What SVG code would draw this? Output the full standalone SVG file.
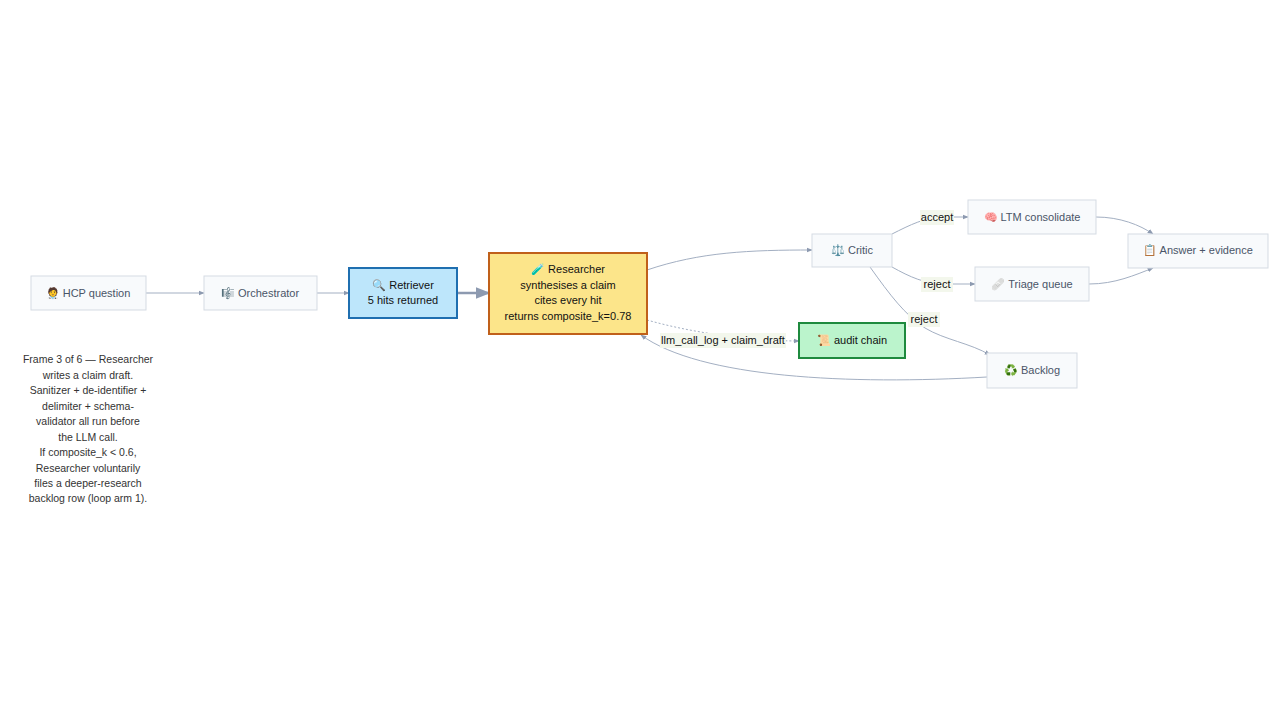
<svg xmlns="http://www.w3.org/2000/svg" width="1280" height="720" viewBox="0 0 1280 720">
<style>
.n{fill:#f8fafc;stroke:#d5dbe3;stroke-width:1}
.t{font-family:"Liberation Sans",Arial,sans-serif;font-size:11px;fill:#4a5568;text-anchor:middle}
.d{fill:#111}
.e{fill:none;stroke:#a3afc2;stroke-width:1}
.lb{fill:#f3f7ec}
.l{font-family:"Liberation Sans",Arial,sans-serif;font-size:11px;fill:#111;text-anchor:middle}
.c{font-family:"Liberation Sans",Arial,sans-serif;font-size:10.5px;fill:#333;text-anchor:middle}
</style>
<defs><marker id="a" viewBox="0 0 10 10" refX="9" refY="5" markerWidth="6" markerHeight="6" orient="auto"><path d="M0,1L10,5L0,9z" fill="#8d9ab0"/></marker></defs>
<rect width="1280" height="720" fill="#fff"/>
<g id="edges">
<path class="e" d="M146,293H204" marker-end="url(#a)"/>
<path class="e" d="M317,293H349" marker-end="url(#a)"/>
<path class="e" d="M457,293H489" stroke-width="2.5" style="stroke-width:2.5;stroke:#8d9ab0" marker-end="url(#a)"/>
<path class="e" d="M647,270C700,252 750,250 812,250" marker-end="url(#a)"/>
<path class="e" d="M892,234C910,225 925,217 945,217L968,217" marker-end="url(#a)"/>
<path class="e" d="M892,267C910,277 925,284 945,284L975,284" marker-end="url(#a)"/>
<path class="e" d="M870,267C890,295 905,315 925,328C945,340 970,343 990,355" marker-end="url(#a)"/>
<path class="e" d="M1096,217C1120,217 1140,225 1153,234" marker-end="url(#a)"/>
<path class="e" d="M1089,284C1115,284 1135,275 1153,268" marker-end="url(#a)"/>
<path class="e" d="M647,320C700,335 760,341 799,341" stroke-dasharray="2,2" marker-end="url(#a)"/>
<path class="e" d="M987,377C850,385 700,378 641,335" marker-end="url(#a)"/>
<rect class="lb" x="920" y="210" width="34" height="15"/><text class="l" x="937" y="221">accept</text>
<rect class="lb" x="921" y="277" width="32" height="15"/><text class="l" x="937" y="288">reject</text>
<rect class="lb" x="908" y="312" width="32" height="15"/><text class="l" x="924" y="323">reject</text>
<rect class="lb" x="660" y="333" width="126" height="15"/><text class="l" x="723" y="344">llm_call_log + claim_draft</text>
</g>
<g id="hcp"><rect class="n" x="31" y="276" width="115" height="34"/><text class="t" x="88" y="297">🧑‍⚕️ HCP question</text></g>
<g id="orch"><rect class="n" x="204" y="276" width="113" height="34"/><text class="t" x="260" y="297">🎼 Orchestrator</text></g>
<g id="retr"><rect x="349" y="268" width="108" height="50" fill="#bde6fb" stroke="#1f6fb0" stroke-width="2"/><text class="l" x="403" y="289">🔍 Retriever</text><text class="l" x="403" y="304">5 hits returned</text></g>
<g id="res"><rect x="489" y="253" width="158" height="81" fill="#fce58a" stroke="#c0601a" stroke-width="2"/><text class="l" x="568" y="273">🧪 Researcher</text><text class="l" x="568" y="289">synthesises a claim</text><text class="l" x="568" y="304">cites every hit</text><text class="l" x="568" y="320">returns composite_k=0.78</text></g>
<g id="critic"><rect class="n" x="812" y="234" width="80" height="33"/><text class="t" x="852" y="254">⚖️ Critic</text></g>
<g id="ltm"><rect class="n" x="968" y="200" width="128" height="34"/><text class="t" x="1032" y="221">🧠 LTM consolidate</text></g>
<g id="triage"><rect class="n" x="975" y="267" width="114" height="34"/><text class="t" x="1032" y="288">🩹 Triage queue</text></g>
<g id="answer"><rect class="n" x="1128" y="234" width="140" height="34"/><text class="t" x="1198" y="254">📋 Answer + evidence</text></g>
<g id="backlog"><rect class="n" x="987" y="353" width="90" height="35"/><text class="t" x="1032" y="374">♻️ Backlog</text></g>
<g id="audit"><rect x="799" y="323" width="106" height="35" fill="#bbf4cc" stroke="#1e8a3e" stroke-width="2"/><text class="l" x="852" y="344">📜 audit chain</text></g>
<g id="caption">
<text class="c" x="88" y="363">Frame 3 of 6 — Researcher</text>
<text class="c" x="88" y="379">writes a claim draft.</text>
<text class="c" x="88" y="394">Sanitizer + de-identifier +</text>
<text class="c" x="88" y="410">delimiter + schema-</text>
<text class="c" x="88" y="425">validator all run before</text>
<text class="c" x="88" y="441">the LLM call.</text>
<text class="c" x="88" y="456">If composite_k &lt; 0.6,</text>
<text class="c" x="88" y="472">Researcher voluntarily</text>
<text class="c" x="88" y="487">files a deeper-research</text>
<text class="c" x="88" y="502">backlog row (loop arm 1).</text>
</g>
</svg>
